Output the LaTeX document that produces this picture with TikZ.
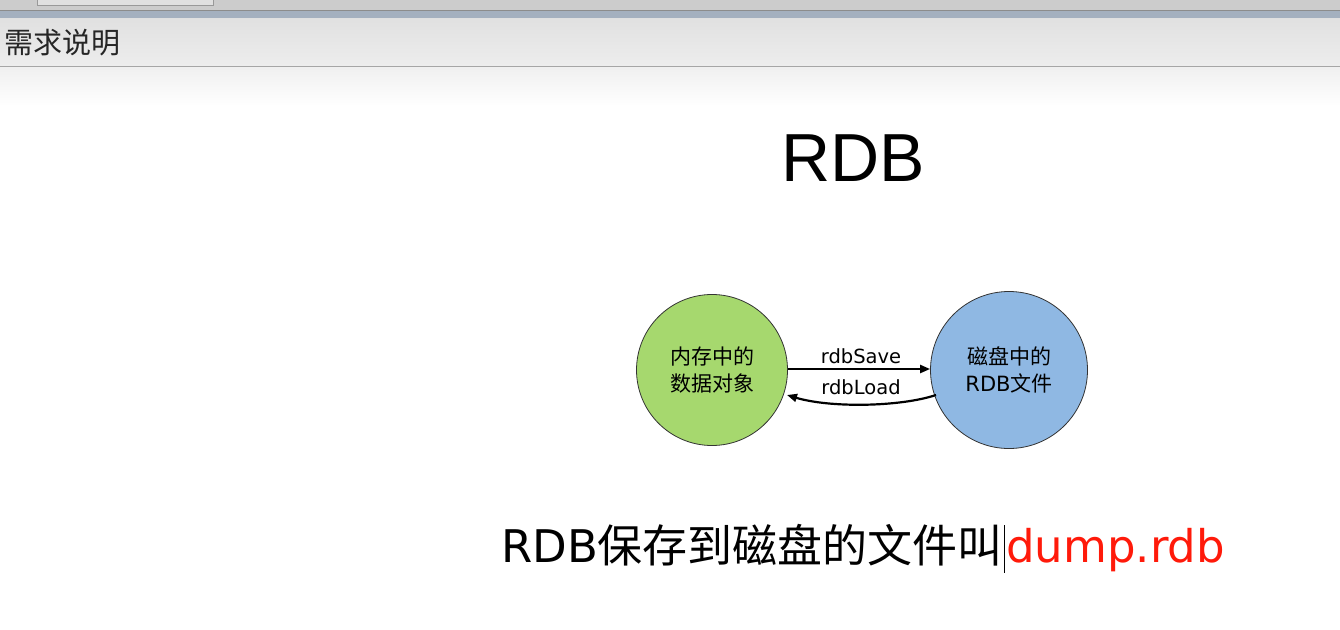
\documentclass[tikz,border=0pt]{standalone}
\usepackage{fontspec}
\setmainfont{DejaVu Sans}
\newfontfamily\cjk{Noto Sans CJK SC}
\newfontfamily\dvs{DejaVu Sans}
\newfontfamily\lib{Liberation Sans}
\usetikzlibrary{arrows.meta}
\definecolor{memgreen}{HTML}{A6D86E}
\definecolor{diskblue}{HTML}{8FB8E3}
\definecolor{barblue}{HTML}{A4B0BF}
\definecolor{dumpred}{HTML}{FF1A0A}
\tikzset{
  stateball/.style={circle, draw=black!80, line width=0.8pt, inner sep=0pt, align=center, font=\cjk\fontsize{21}{27}\selectfont},
  flowarrow/.style={-{Triangle[length=10pt,width=8pt]}, line width=2.2pt},
  flowlabel/.style={font=\dvs\fontsize{19.5}{22}\selectfont, inner sep=0pt}
}
\begin{document}
\begin{tikzpicture}[x=1pt,y=-1pt]
\useasboundingbox (0,0) rectangle (1340,629);
\fill[white] (0,0) rectangle (1340,629);
% top window chrome
\fill[black!20] (0,0) rectangle (1340,10);
\draw[black!40, fill=black!12] (37,-2) rectangle (213,5);
\fill[barblue] (0,10) rectangle (1340,18);
\draw[black!45, line width=0.7pt] (0,10) -- (1340,10);
\draw[black!45, line width=0.7pt] (0,18) -- (1340,18);
\shade[top color=black!12, bottom color=black!7] (0,18.4) rectangle (1340,66);
\draw[black!35, line width=1pt] (0,66.5) -- (1340,66.5);
\shade[top color=black!6, bottom color=white] (0,67) rectangle (1340,106);
\node[anchor=west, inner sep=0pt, font=\cjk\fontsize{29}{32}\selectfont, text=black!85] (hdr) at (4,43) {需求说明};
% title
\node[font=\lib\fontsize{68}{72}\selectfont, inner sep=0pt] (title) at (853,158) {RDB};
% circles
\node[stateball, fill=memgreen, minimum size=151pt] (mem) at (712,370) {内存中的\\数据对象};
\node[stateball, fill=diskblue, minimum size=157pt] (disk) at (1009,370) {磁盘中的\\{\dvs RDB}文件};
\draw[flowarrow] (mem.east |- 0,369) -- (disk.west |- 0,369);
\coordinate (loadstart) at (936,395);
\coordinate (loadend) at (787,395);
\draw[flowarrow] (loadstart) .. controls (900,407) and (830,408) .. (loadend);
\node[flowlabel] (save) at (861,356) {rdbSave};
\node[flowlabel] (load) at (861,387) {rdbLoad};
% bottom sentence
\node[anchor=base west, inner sep=0pt, font=\fontsize{45}{50}\selectfont] (sentence) at (501,562) {RDB{\cjk 保存到磁盘的文件叫}};
\draw[black, line width=1pt] (1004,525) -- (1004,573);
\node[anchor=base west, inner sep=0pt, font=\fontsize{45}{50}\selectfont, text=dumpred] (dump) at (1006,562) {dump.rdb};
\end{tikzpicture}
\end{document}
